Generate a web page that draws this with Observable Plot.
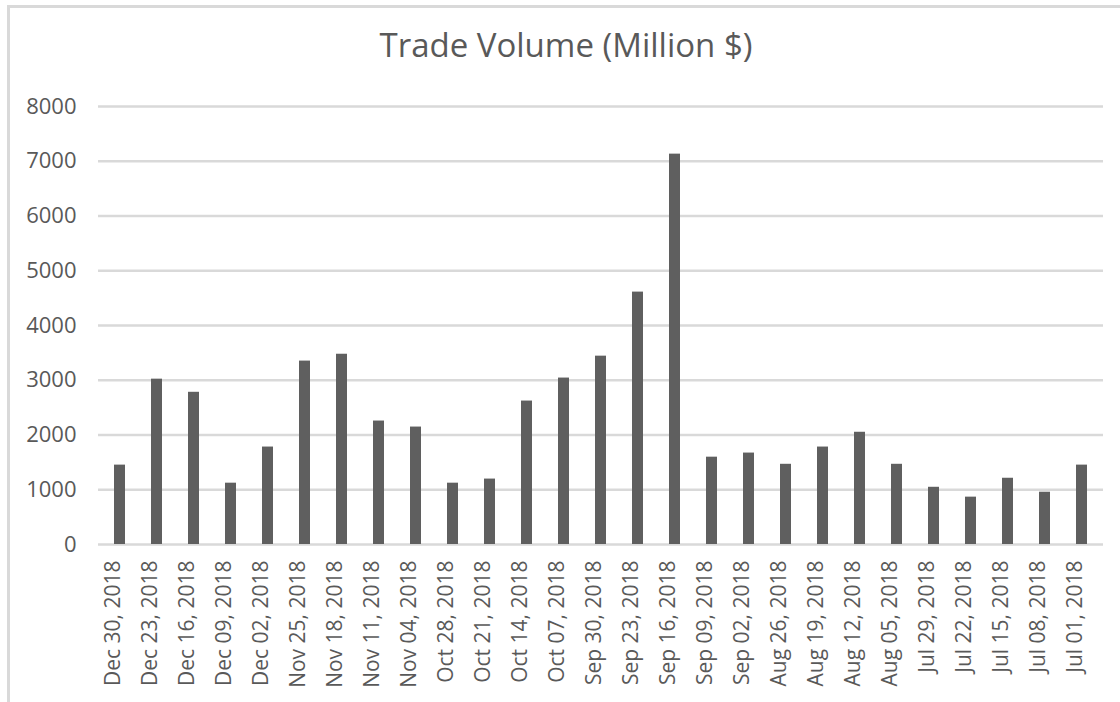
<!DOCTYPE html>
<html>
<head>
<meta charset="utf-8">
<script src="https://cdn.jsdelivr.net/npm/d3@7"></script>
<script src="https://cdn.jsdelivr.net/npm/@observablehq/plot@0.6"></script>
<style>
  html, body { margin: 0; padding: 0; background: #fff; }
  #wrap { position: relative; width: 1120px; height: 702px; overflow: hidden; font-family: "Open Sans", sans-serif; }
  #frame { position: absolute; left: 7px; top: 5px; width: 1200px; height: 800px; border-left: 3px solid #d9d9d9; border-top: 3px solid #d9d9d9; box-sizing: border-box; }
  #title { position: absolute; left: 0; width: 1132px; top: 24px; text-align: center; font-size: 33px; color: #595959; line-height: 1.3; }
  #chart { position: absolute; left: 0; top: 85px; }
</style>
</head>
<body>
<div id="wrap">
  <div id="frame"></div>
  <div id="title">Trade Volume (Million $)</div>
  <div id="chart"></div>
</div>
<script>
const dates = ["Dec 30, 2018","Dec 23, 2018","Dec 16, 2018","Dec 09, 2018","Dec 02, 2018","Nov 25, 2018","Nov 18, 2018","Nov 11, 2018","Nov 04, 2018","Oct 28, 2018","Oct 21, 2018","Oct 14, 2018","Oct 07, 2018","Sep 30, 2018","Sep 23, 2018","Sep 16, 2018","Sep 09, 2018","Sep 02, 2018","Aug 26, 2018","Aug 19, 2018","Aug 12, 2018","Aug 05, 2018","Jul 29, 2018","Jul 22, 2018","Jul 15, 2018","Jul 08, 2018","Jul 01, 2018"];
const volumes = [1450,3020,2780,1120,1780,3350,3475,2255,2145,1120,1195,2620,3040,3440,4610,7130,1595,1670,1465,1780,2050,1465,1045,865,1210,955,1450];
const yTicks = [0,1000,2000,3000,4000,5000,6000,7000,8000];

const data = dates.map((d, i) => ({date: d, value: volumes[i]}));

const chart = Plot.plot({
  width: 1120,
  height: 617,
  marginTop: 21,
  marginBottom: 158,
  marginLeft: 98,
  marginRight: 17,
  style: {fontFamily: "Open Sans, sans-serif", fontSize: "21px", color: "#595959", background: "transparent"},
  x: {domain: dates, paddingInner: 0.69, paddingOuter: 0.345, label: null},
  y: {domain: [0, 8000], label: null},
  marks: [
    Plot.ruleY(yTicks, {stroke: "#d9d9d9", strokeWidth: 2.6}),
    Plot.barY(data, {x: "date", y: "value", fill: "#5f5f5f"}),
    Plot.axisY(yTicks, {tickSize: 0, tickPadding: 22, label: null, fill: "#595959", fontSize: 22, tickFormat: d => String(d)}),
    Plot.axisX({tickSize: 0, tickPadding: 16, tickRotate: -90, dx: -7, label: null, fill: "#595959", fontSize: 21})
  ]
});
document.getElementById("chart").appendChild(chart);
</script>
</body>
</html>
